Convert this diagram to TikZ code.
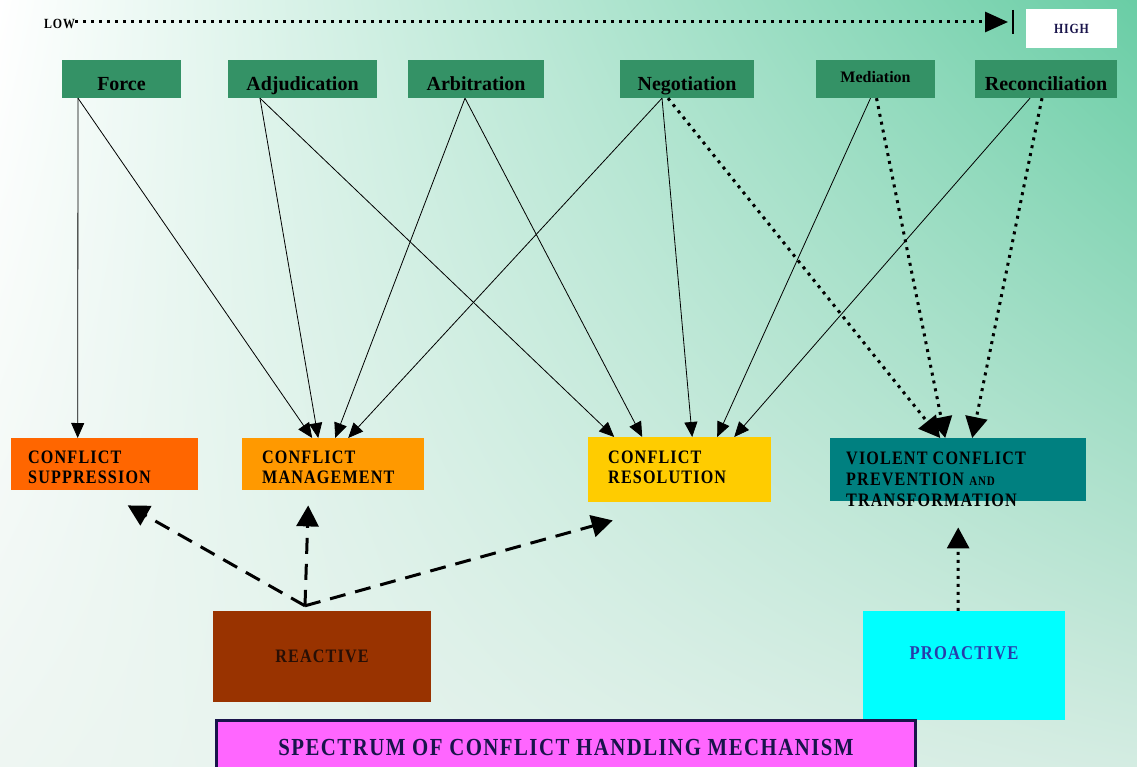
\documentclass[tikz,border=0pt]{standalone}
\usepackage{fontspec}
\setmainfont{Liberation Serif}
\newfontfamily\capsfont{Liberation Serif}[FakeStretch=0.85,LetterSpace=6]
\usetikzlibrary{arrows.meta,shadings}

\definecolor{mechgreen}{RGB}{52,146,102}
\definecolor{suppred}{RGB}{255,102,0}
\definecolor{mgmtorange}{RGB}{255,153,0}
\definecolor{resolyellow}{RGB}{255,204,0}
\definecolor{violteal}{RGB}{0,128,128}
\definecolor{reactbrown}{RGB}{153,51,0}
\definecolor{proactcyan}{RGB}{0,255,255}
\definecolor{specpink}{RGB}{255,102,255}
\definecolor{darknavy}{RGB}{25,20,75}
\definecolor{textblue}{RGB}{40,60,170}
\definecolor{bgmint}{RGB}{105,205,165}
\definecolor{bglowleft}{RGB}{238,246,242}
\definecolor{bglowright}{RGB}{212,236,226}

\begin{document}
\begin{tikzpicture}[x=1pt,y=-1pt,
    topbox/.style={fill=mechgreen, minimum height=38pt, inner sep=0pt,
      text height=26pt, text depth=2pt,
      font=\bfseries\fontsize{20}{22}\selectfont},
    lowbox/.style={anchor=north west, inner sep=0pt},
    boxtext/.style={anchor=north west, inner sep=0pt, align=left,
      font=\capsfont\bfseries\fontsize{19}{20}\selectfont},
    plain/.style={-{Triangle[length=15pt,width=13pt]}, line width=.8pt},
    dotline/.style={-{Triangle[length=21pt,width=22pt]}, line width=3pt,
      dash pattern=on 3pt off 5pt},
    dashline/.style={-{Triangle[length=21pt,width=22pt]}, line width=3pt,
      dash pattern=on 16pt off 10pt}]
  \useasboundingbox (0,0) rectangle (1137,767);
  \shade[upper left=white, upper right=bgmint, lower left=bglowleft,
    lower right=bglowright] (0,0) rectangle (1137,767);

  %% low -> high scale
  \node[inner sep=0pt, anchor=west,
    font=\capsfont\bfseries\fontsize{14}{15}\selectfont] (low) at (44,24) {LOW};
  \node[fill=white, minimum width=91pt, minimum height=39pt, inner sep=0pt,
    text=darknavy, font=\capsfont\bfseries\fontsize{14}{15}\selectfont]
    (high) at (1071.5,28.5) {HIGH};
  \coordinate (hitip) at (1008,22);
  \draw[dotline, -{Triangle[length=23pt,width=20pt]}] (low.east |- hitip) -- (hitip);
  \draw[line width=1.5pt] ([xshift=5pt,yshift=12pt]hitip) -- ([xshift=5pt,yshift=-12pt]hitip);

  %% mechanisms
  \node[topbox, minimum width=119pt] (force) at (121.5,79) {Force};
  \node[topbox, minimum width=149pt] (adjud) at (302.5,79) {Adjudication};
  \node[topbox, minimum width=136pt] (arbit) at (476,79) {Arbitration};
  \node[topbox, minimum width=134pt] (negot) at (687,79) {Negotiation};
  \node[topbox, minimum width=119pt, text height=12pt, text depth=4pt,
    font=\bfseries\fontsize{16}{18}\selectfont] (media) at (875.5,79) {Mediation};
  \node[topbox, minimum width=142pt] (recon) at (1046,79) {Reconciliation};

  %% outcomes
  \node[lowbox, fill=suppred, minimum width=187pt, minimum height=52pt] (supp) at (11,438) {};
  \node[boxtext] (supptxt) at ([xshift=17pt,yshift=-13pt]supp.north west) {CONFLICT\\SUPPRESSION};
  \node[lowbox, fill=mgmtorange, minimum width=182pt, minimum height=52pt] (mgmt) at (242,438) {};
  \node[boxtext] (mgmttxt) at ([xshift=20pt,yshift=-13pt]mgmt.north west) {CONFLICT\\MANAGEMENT};
  \node[lowbox, fill=resolyellow, minimum width=183pt, minimum height=65pt] (resol) at (588,437) {};
  \node[boxtext] (resoltxt) at ([xshift=20pt,yshift=-14pt]resol.north west) {CONFLICT\\RESOLUTION};
  \node[lowbox, fill=violteal, minimum width=256pt, minimum height=63pt] (viol) at (830,438) {};
  \node[boxtext, font=\capsfont\bfseries\fontsize{19}{21}\selectfont] (violtxt)
    at ([xshift=16pt,yshift=-14pt]viol.north west)
    {VIOLENT CONFLICT\\PREVENTION {\fontsize{13}{14}\selectfont AND}\\TRANSFORMATION};

  \node[fill=reactbrown, minimum width=218pt, minimum height=91pt, inner sep=0pt,
    text={rgb,255:red,40;green,15;blue,5},
    font=\capsfont\bfseries\fontsize{19}{20}\selectfont] (react) at (322,656.5) {REACTIVE};
  \node[fill=proactcyan, minimum width=202pt, minimum height=109pt, inner sep=0pt,
    text height=0pt, text depth=13pt, text=textblue,
    font=\capsfont\bfseries\fontsize{19.5}{20}\selectfont] (proact) at (964,665.5) {PROACTIVE};
  \node[lowbox, fill=specpink, draw=darknavy, line width=3pt, minimum width=699pt,
    minimum height=54pt, text=darknavy,
    font=\capsfont\bfseries\fontsize{24.5}{26}\selectfont] (spec) at (215,719)
    {SPECTRUM OF CONFLICT HANDLING MECHANISM};

  %% solid links
  \draw[plain] ([xshift=-43.5pt]force.south) -- ([xshift=-27pt]supp.north);
  \draw[plain] ([xshift=-43.5pt]force.south) -- ([xshift=-21pt]mgmt.north);
  \draw[plain] ([xshift=-42.5pt]adjud.south) -- ([xshift=-15pt]mgmt.north);
  \draw[plain] ([xshift=-42.5pt]adjud.south) -- ([xshift=-65.5pt]resol.north);
  \draw[plain] ([xshift=-11pt]arbit.south) -- ([xshift=2pt]mgmt.north);
  \draw[plain] ([xshift=-11pt]arbit.south) -- ([xshift=-37.5pt]resol.north);
  \draw[plain] ([xshift=-25pt]negot.south) -- ([xshift=15pt]mgmt.north);
  \draw[plain] ([xshift=-25pt]negot.south) -- ([xshift=12.5pt]resol.north);
  \draw[plain] ([xshift=-5pt]media.south) -- ([xshift=37.5pt]resol.north);
  \draw[plain] ([xshift=-16pt]recon.south) -- ([xshift=54.5pt]resol.north);

  %% dotted links
  \draw[dotline] ([xshift=-19pt]negot.south) -- ([xshift=-18pt]viol.north);
  \draw[dotline] ([xshift=1pt]media.south) -- ([xshift=-13pt]viol.north);
  \draw[dotline] ([xshift=-4pt]recon.south) -- ([xshift=14pt]viol.north);
  \draw[dotline] ([xshift=-6pt]proact.north) -- ([yshift=-26pt]viol.south);

  %% dashed links
  \coordinate (fan) at ([xshift=-17pt,yshift=5pt]react.north);
  \draw[dashline] (fan) -- ([xshift=23pt,yshift=-15pt]supp.south);
  \draw[dashline] (fan) -- ([xshift=-25pt,yshift=-15pt]mgmt.south);
  \draw[dashline] (fan) -- ([xshift=-67pt,yshift=-18pt]resol.south);
\end{tikzpicture}
\end{document}
